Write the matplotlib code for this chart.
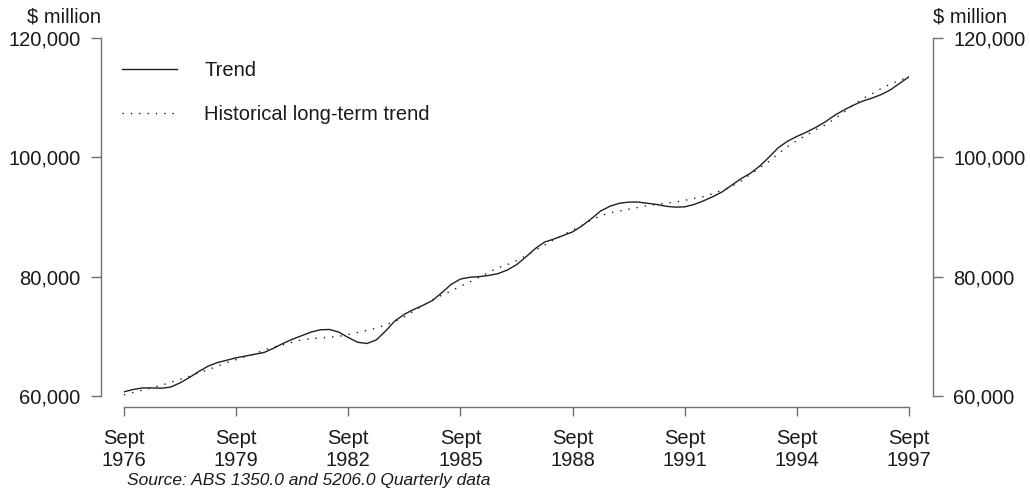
import numpy as np
import matplotlib
matplotlib.use("Agg")
import matplotlib.pyplot as plt

plt.rcParams["font.family"] = ["Liberation Sans", "DejaVu Sans"]

# Quarterly values, Sept 1976 .. Sept 1997 ($ million)
trend = [
    60700, 61100, 61350, 61350, 61300, 61500, 62200, 63100, 64100, 65000,
    65600, 66000, 66400, 66700, 67000, 67300, 68000, 68800, 69500, 70100,
    70700, 71100, 71150, 70700, 69800, 69000, 68800, 69400, 70900, 72600,
    73700, 74500, 75200, 76000, 77300, 78700, 79600, 79900, 80000, 80200,
    80500, 81100, 82000, 83300, 84700, 85800, 86300, 86900, 87500, 88500,
    89700, 91000, 91800, 92300, 92500, 92500, 92300, 92100, 91800, 91650,
    91700, 92100, 92700, 93400, 94200, 95300, 96400, 97300, 98500, 100000,
    101600, 102700, 103500, 104200, 105000, 105900, 107000, 107900, 108700, 109400,
    109900, 110500, 111300, 112400, 113500,
]
long_term = [
    60200, 60600, 61000, 61400, 61800, 62300, 62800, 63300, 63900, 64400,
    65000, 65600, 66100, 66600, 67100, 67700, 68200, 68600, 69000, 69400,
    69600, 69750, 69850, 70000, 70300, 70650, 71000, 71400, 71900, 72500,
    73300, 74200, 75200, 76100, 76900, 77600, 78400, 79100, 79900, 80700,
    81500, 82000, 82700, 83500, 84400, 85300, 86200, 87000, 87800, 88600,
    89500, 90200, 90700, 91000, 91300, 91600, 91900, 92100, 92300, 92500,
    92800, 93100, 93400, 93900, 94500, 95100, 96000, 97100, 98200, 99300,
    100600, 101800, 102800, 103700, 104600, 105400, 106400, 107500, 108700, 109800,
    110600, 111500, 112300, 112900, 113500,
]
tick_years = ["1976", "1979", "1982", "1985", "1988", "1991", "1994", "1997"]
y_ticks = [60000, 80000, 100000, 120000]

quarters = np.arange(len(trend))
spine_col = "#707070"
text_col = "#1a1a1a"
fs = 14.5

fig = plt.figure(figsize=(10.3, 4.95), dpi=100)
ax = fig.add_axes([124 / 1030, 99 / 495, 785 / 1030, 358 / 495])

ax.plot(quarters, trend, color="#202020", lw=1.0, label="Trend")
ax.plot(quarters, long_term, color="#202020", lw=1.0, linestyle=(0, (1, 5)),
        label="Historical long-term trend")

ax.set_xlim(0, len(trend) - 1)
ax.set_ylim(60000, 120000)

# y axis on both sides, offset outward (points)
ax.spines["top"].set_visible(False)
ax.spines["left"].set_position(("outward", 16.5))
ax.spines["right"].set_position(("outward", 17))
ax.spines["bottom"].set_position(("outward", 8))
for s in ["left", "right", "bottom"]:
    ax.spines[s].set_color(spine_col)
    ax.spines[s].set_linewidth(1.0)

ax.set_yticks(y_ticks)
ax.set_yticklabels([f"{v:,}" for v in y_ticks])
ax.tick_params(axis="y", left=True, right=True, labelleft=True, labelright=True,
               length=7.5, width=1.0, color=spine_col, pad=7.5,
               labelsize=fs, labelcolor=text_col)

ax.set_xticks(np.arange(0, len(trend), 12))
ax.set_xticklabels([f"Sept\n{y}" for y in tick_years])
ax.tick_params(axis="x", length=6.5, width=1.0, color=spine_col, pad=9,
               labelsize=fs, labelcolor=text_col)

fig.text(101 / 1030, 1 - 17 / 495, "$ million", ha="right", va="center",
         fontsize=fs, color=text_col)
fig.text(933 / 1030, 1 - 17 / 495, "$ million", ha="left", va="center",
         fontsize=fs, color=text_col)

leg = ax.legend(loc="upper left", bbox_to_anchor=(-0.003, 0.935), frameon=False,
                fontsize=fs, handlelength=2.75, handletextpad=1.35,
                labelspacing=1.25, borderpad=0, borderaxespad=0)
for t in leg.get_texts():
    t.set_color(text_col)

fig.text(127 / 1030, 1 - 480 / 495, "Source: ABS 1350.0 and 5206.0 Quarterly data",
         ha="left", va="center", fontsize=12.5, style="italic", color=text_col)

fig.savefig("out.png", dpi=100)
